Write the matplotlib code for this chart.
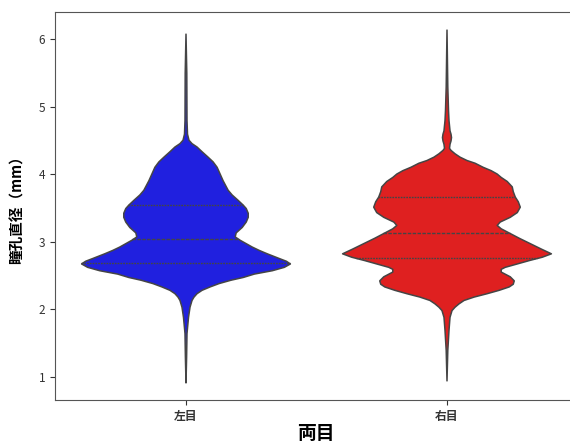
import matplotlib
matplotlib.use("Agg")
import matplotlib.pyplot as plt
import numpy as np

plt.rcParams['font.family'] = ['Noto Sans CJK JP', 'DejaVu Sans']

# -----------------------------
# Data
# -----------------------------
categories = ["左目", "右目"]
colors = ["#2020df", "#df2020"]

# density profile: value (mm) -> relative half width
left_y = [0.92, 1.30, 1.65, 1.89, 2.04, 2.14, 2.19, 2.24, 2.29, 2.34, 2.39, 2.44,
          2.48, 2.53, 2.58, 2.63, 2.68, 2.72, 2.76, 2.83, 2.88, 2.93, 2.98, 3.03,
          3.08, 3.14, 3.22, 3.30, 3.37, 3.43, 3.50, 3.55, 3.62, 3.70, 3.77, 3.91,
          4.01, 4.11, 4.19, 4.26, 4.34, 4.41, 4.46, 4.51, 4.60, 4.80, 5.50, 6.08]
left_w = [0, 0.6, 1, 2.5, 4, 6, 8, 11, 16, 24, 33, 45,
          57, 68, 86, 98, 104, 100, 93, 81, 73, 66, 60, 54,
          49, 50, 56, 60, 62, 62, 60, 57, 52, 46, 42, 37,
          34, 31, 27, 22, 16, 11, 6, 3, 1.5, 1, 0.8, 0]

right_y = [0.95, 1.40, 1.70, 1.89, 1.99, 2.04, 2.09, 2.14, 2.19, 2.24, 2.29, 2.34,
           2.38, 2.43, 2.49, 2.56, 2.60, 2.63, 2.68, 2.73, 2.78, 2.83, 2.90, 2.98,
           3.06, 3.13, 3.20, 3.25, 3.30, 3.37, 3.44, 3.52, 3.60, 3.67, 3.75, 3.82,
           3.90, 3.96, 4.01, 4.06, 4.11, 4.17, 4.21, 4.26, 4.31, 4.36, 4.39, 4.45,
           4.50, 4.55, 4.60, 4.65, 4.80, 4.95, 5.30, 6.14]
right_w = [0, 0.8, 2, 3, 5, 8, 12, 17, 27, 40, 52, 62,
           66, 67, 63, 54, 54, 58, 70, 82, 95, 104, 94, 83,
           72, 63, 54, 50, 53, 63, 70, 73, 71, 68, 66, 65,
           60, 54, 50, 44, 36, 28, 20, 13, 8, 4, 2.5, 3,
           4, 4.5, 4, 3, 2, 1.5, 0.8, 0]

left_q = [2.68, 3.04, 3.54]
right_q = [2.76, 3.13, 3.66]

profiles = [(left_y, left_w, left_q), (right_y, right_w, right_q)]

# -----------------------------
# Figure
# -----------------------------
fig = plt.figure(figsize=(5.7, 4.43), dpi=100)
ax = fig.add_axes([55 / 570, 43 / 443, 522 / 570, 388 / 443])

vpstats = []
for ys, ws, qs in profiles:
    vpstats.append({
        "coords": np.array(ys),
        "vals": np.array(ws, dtype=float),
        "mean": qs[1],
        "median": qs[1],
        "min": ys[0],
        "max": ys[-1],
        "quantiles": [],
    })

width = 0.8
parts = ax.violin(vpstats, positions=[0, 1], widths=width,
                  showmeans=False, showextrema=False, showmedians=False)
for body, c in zip(parts["bodies"], colors):
    body.set_facecolor(c)
    body.set_edgecolor("#454545")
    body.set_linewidth(1.1)
    body.set_alpha(1)

# quartile lines
for pos, (ys, ws, qs) in enumerate(profiles):
    ws = np.array(ws, dtype=float)
    half = 0.5 * width * ws / ws.max()
    for i, q in enumerate(qs):
        h = np.interp(q, ys, half)
        dash = (2.5, 1) if i == 1 else (1.25, 0.75)
        ax.plot([pos - h, pos + h], [q, q], color="#454545",
                linewidth=1.0, dashes=dash, zorder=3)

ax.set_xlim(-0.5, 1.5)
ax.set_ylim(0.66, 6.40)
ax.set_xticks([0, 1])
ax.set_xticklabels(categories, fontsize=8.5, fontweight="bold")
ax.set_yticks([1, 2, 3, 4, 5, 6])
ax.tick_params(axis="y", labelsize=8.5, colors="#333333")
ax.tick_params(axis="x", colors="#333333")
for s in ax.spines.values():
    s.set_color("#555555")

ax.set_xlabel("両目", fontsize=13.5, fontweight="bold", labelpad=1)
ax.set_ylabel("瞳孔直径（mm）", fontsize=10.5, fontweight="bold", labelpad=10)

fig.savefig("out.png", dpi=100)
